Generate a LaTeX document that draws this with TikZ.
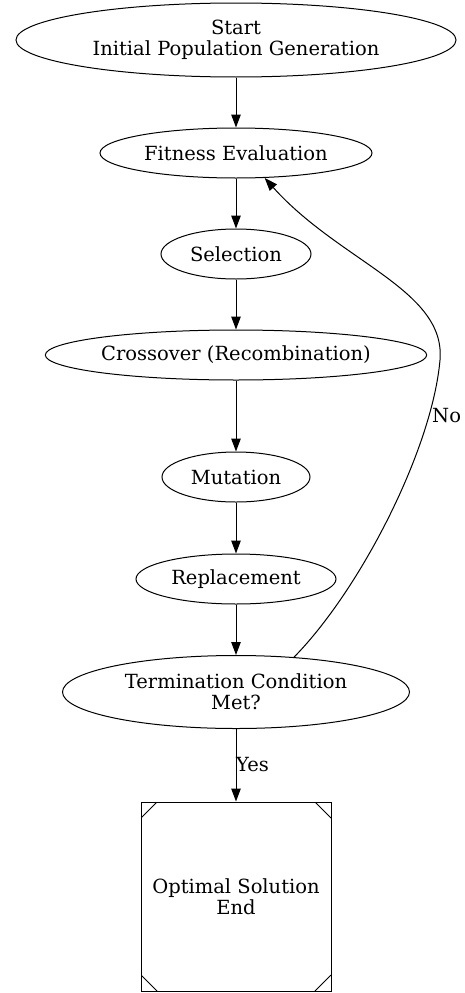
\documentclass[tikz,border=0pt]{standalone}
\usepackage{fontspec}
\setmainfont{DejaVu Serif}
\usetikzlibrary{shapes.geometric,arrows.meta}

\begin{document}
\begin{tikzpicture}[x=1pt, y=-1pt,
    stage/.style={ellipse, draw, line width=1pt, inner sep=0pt, align=center, font=\fontsize{19.5}{21}\selectfont},
    endbox/.style={rectangle, draw, line width=1pt, inner sep=0pt, align=center, font=\fontsize{19.5}{21}\selectfont,
        minimum width=190pt, minimum height=189pt,
        path picture={
            \draw[line width=1pt] ([xshift=16pt]path picture bounding box.north west) -- ([yshift=-16pt]path picture bounding box.north west);
            \draw[line width=1pt] ([xshift=-16pt]path picture bounding box.north east) -- ([yshift=-16pt]path picture bounding box.north east);
            \draw[line width=1pt] ([xshift=16pt]path picture bounding box.south west) -- ([yshift=16pt]path picture bounding box.south west);
            \draw[line width=1pt] ([xshift=-16pt]path picture bounding box.south east) -- ([yshift=16pt]path picture bounding box.south east);
        }},
    arrow/.style={-{Triangle[length=13pt, width=9.5pt]}, line width=1pt},
    lbl/.style={font=\fontsize{19.5}{21}\selectfont, anchor=west, inner sep=1pt}
]
    \useasboundingbox (0,0) rectangle (465,993);

    % Main loop of the algorithm
    \node[stage, minimum width=440pt, minimum height=74pt] (start) at (236,40) {Start\\Initial Population Generation};
    \node[stage, minimum width=272pt, minimum height=50pt] (fit) at (236,153) {Fitness Evaluation};
    \node[stage, minimum width=150pt, minimum height=50pt] (sel) at (236,254) {Selection};
    \node[stage, minimum width=381pt, minimum height=50pt] (cross) at (236,355) {Crossover (Recombination)};
    \node[stage, minimum width=148pt, minimum height=50pt] (mut) at (236,477) {Mutation};
    \node[stage, minimum width=200pt, minimum height=50pt] (repl) at (236,579) {Replacement};
    \node[stage, minimum width=347pt, minimum height=73pt] (term) at (236,692) {Termination Condition\\Met?};

    % Final result
    \node[endbox] (opt) at (236,896.5) {Optimal Solution\\End};

    \draw[arrow] (start) -- (fit);
    \draw[arrow] (fit) -- (sel);
    \draw[arrow] (sel) -- (cross);
    \draw[arrow] (cross) -- (mut);
    \draw[arrow] (mut) -- (repl);
    \draw[arrow] (repl) -- (term);
    \draw[arrow] (term) -- (opt);
    \node[lbl] (yes) at (235,765) {Yes};

    % Loop back when not finished
    \draw[arrow] (term.31) .. controls (360,590) and (432,450) .. (440,360)
        .. controls (446,290) and (340,262) .. (fit.-41);
    \node[lbl] (no) at (431,416) {No};
\end{tikzpicture}
\end{document}
